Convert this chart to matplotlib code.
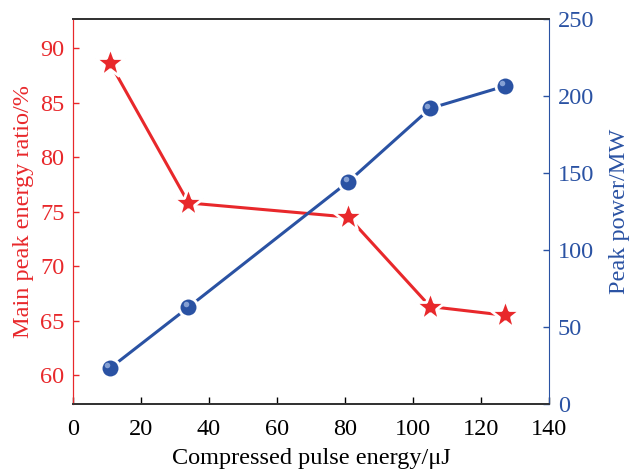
import matplotlib.pyplot as plt
from matplotlib.transforms import offset_copy

# data
energy = [11, 34, 81, 105, 127]
ratio = [88.6, 75.8, 74.5, 66.3, 65.5]
peak_power = [23.5, 63, 144.5, 192, 206.5]

x_ticks = [0, 20, 40, 60, 80, 100, 120, 140]
ratio_ticks = [60, 65, 70, 75, 80, 85, 90]
power_ticks = [0, 50, 100, 150, 200, 250]

red = '#e8282b'
blue = '#2a52a3'

plt.rcParams['font.family'] = ['Liberation Serif', 'DejaVu Serif']

fig = plt.figure(figsize=(6.29, 4.70), dpi=100)
ax = fig.add_axes([0.1156, 0.1398, 0.7577, 0.8198])
ax2 = ax.twinx()

# red series
ax.plot(energy, ratio, color=red, lw=2.2, marker='*', markersize=23,
        markerfacecolor=red, markeredgecolor='white', markeredgewidth=2.0, zorder=3)

# blue series, sphere-like markers
ax2.plot(energy, peak_power, color=blue, lw=2.2, marker='o', markersize=13.5,
         markerfacecolor=blue, markeredgecolor='white', markeredgewidth=2.0, zorder=3)
hl = offset_copy(ax2.transData, fig=fig, x=-2.0, y=2.0, units='points')
ax2.plot(energy, peak_power, linestyle='none', marker='o', markersize=4,
         markerfacecolor='#9db4e0', markeredgecolor='none', alpha=0.8,
         transform=hl, zorder=4)

ax.set_xlim(0, 140)
ax.set_ylim(57.34, 92.66)
ax2.set_ylim(0, 250)

ax.set_xticks(x_ticks)
ax.set_yticks(ratio_ticks)
ax2.set_yticks(power_ticks)

fs = 17.5
ax.tick_params(axis='x', direction='in', length=5, width=1, colors='black',
               labelsize=fs, pad=10.5, top=False)
ax.tick_params(axis='y', direction='in', length=4, width=1, colors=red,
               labelsize=fs, pad=6)
ax2.tick_params(axis='y', direction='in', length=4, width=1, colors=blue,
                labelsize=fs, pad=6)

for a in (ax, ax2):
    a.spines['top'].set_color('#333333')
    a.spines['bottom'].set_color('#333333')
    a.spines['top'].set_linewidth(1.3)
    a.spines['bottom'].set_linewidth(1.3)
ax.spines['left'].set_color(red)
ax2.spines['left'].set_color(red)
ax2.spines['right'].set_color(blue)
ax.spines['right'].set_visible(False)

ax.set_xlabel('Compressed pulse energy/μJ', fontsize=fs, color='black', labelpad=6)
ax.set_ylabel('Main peak energy ratio/%', fontsize=fs, color=red, labelpad=4)
ax2.set_ylabel('Peak power/MW', fontsize=fs, color=blue, labelpad=11)

fig.savefig('out.png', dpi=100)
